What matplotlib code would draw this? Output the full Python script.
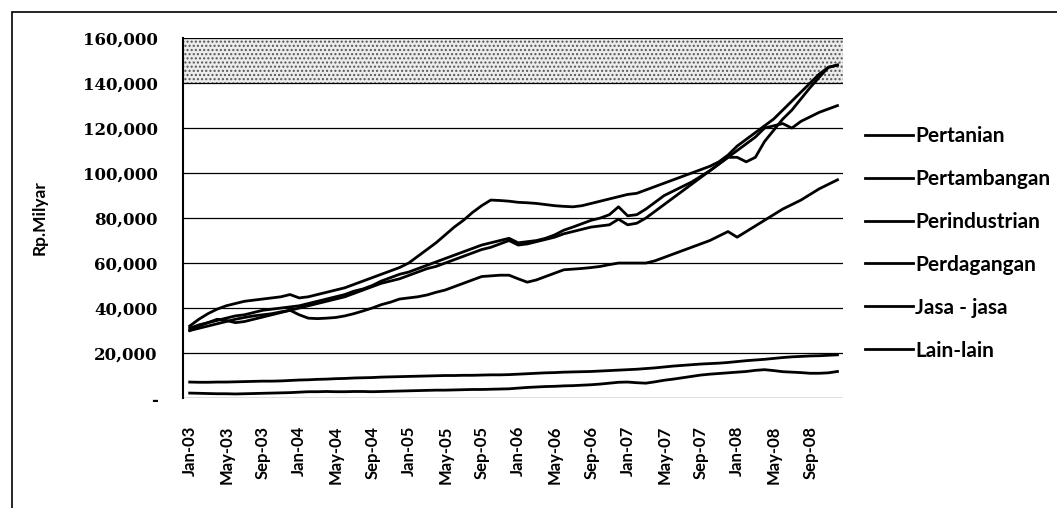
import matplotlib

matplotlib.use("Agg")
import matplotlib.pyplot as plt
from matplotlib.patches import Rectangle
from matplotlib.ticker import FuncFormatter, MultipleLocator

# Kredit per sektor ekonomi, bulanan Jan-03 s/d Des-08 (Rp. Milyar, dalam ribuan)
MONTHS = list(range(72))
TICK_MONTHS = list(range(0, 72, 4))
TICK_LABELS = [f"{m}-{y:02d}" for y in range(3, 9) for m in ("Jan", "May", "Sep")]

PERTANIAN = [
    7.1, 7.0, 7.0, 7.1, 7.1, 7.2, 7.3, 7.4, 7.5, 7.5, 7.6, 7.8,
    8.0, 8.1, 8.3, 8.4, 8.6, 8.7, 8.9, 9.0, 9.1, 9.3, 9.4, 9.5,
    9.6, 9.7, 9.8, 9.9, 10.0, 10.0, 10.1, 10.1, 10.2, 10.3, 10.3, 10.4,
    10.6, 10.8, 11.0, 11.2, 11.3, 11.5, 11.6, 11.7, 11.8, 12.0, 12.2, 12.4,
    12.6, 12.8, 13.1, 13.4, 13.8, 14.2, 14.5, 14.8, 15.1, 15.3, 15.5, 15.8,
    16.2, 16.6, 16.9, 17.2, 17.6, 18.0, 18.3, 18.5, 18.7, 18.8, 19.0, 19.2,
]
PERTAMBANGAN = [
    2.2, 2.1, 2.0, 1.9, 1.9, 1.8, 1.9, 2.0, 2.1, 2.2, 2.3, 2.4,
    2.6, 2.8, 2.8, 2.9, 2.8, 2.8, 2.9, 2.9, 2.8, 2.9, 3.0, 3.1,
    3.2, 3.3, 3.4, 3.5, 3.5, 3.6, 3.7, 3.8, 3.8, 3.9, 4.0, 4.1,
    4.4, 4.7, 4.9, 5.1, 5.2, 5.4, 5.5, 5.7, 5.9, 6.2, 6.6, 7.0,
    7.1, 6.8, 6.6, 7.2, 7.9, 8.4, 9.0, 9.6, 10.2, 10.6, 10.9, 11.2,
    11.5, 11.8, 12.3, 12.6, 12.2, 11.7, 11.5, 11.3, 11.0, 11.0, 11.2, 11.8,
]
PERINDUSTRIAN = [
    32, 35, 37.5, 39.5, 41, 42, 43, 43.5, 44, 44.5, 45, 46,
    44.5, 45, 46, 47, 48, 49, 50.5, 52, 53.5, 55, 56.5, 58,
    60, 63, 66, 69, 72.5, 76, 79, 82.5, 85.5, 88, 87.8, 87.5,
    87, 86.8, 86.5, 86, 85.5, 85.2, 85, 85.5, 86.5, 87.5, 88.5, 89.5,
    90.5, 91, 92.5, 94, 95.5, 97, 98.5, 100, 101.5, 103, 105, 108,
    112, 115, 118, 121, 124, 128, 132, 136, 140, 144, 147, 148,
]
PERDAGANGAN = [
    31, 32.5, 33.5, 34.5, 35.5, 36.5, 37, 38, 39, 39.5, 40, 40.5,
    41, 42, 43, 44, 45, 46, 47.5, 48.5, 50, 52, 53.5, 55,
    56, 57.5, 59, 60.5, 62, 63.5, 65, 66.5, 68, 69, 70, 71,
    69, 69.5, 70, 71, 72.5, 74.6, 76, 77.5, 79, 80, 81.5, 85,
    81, 81.5, 84, 87, 90, 92, 94, 96, 98.5, 101, 104, 107,
    107, 105, 107, 114, 119, 124, 128, 133, 138, 142.6, 147, 148,
]
JASA = [
    30, 31, 32, 33, 34, 35, 35.8, 36.5, 37, 37.5, 38.3, 39,
    37, 35.5, 35.3, 35.5, 35.8, 36.5, 37.5, 38.7, 40, 41.5, 42.6, 44,
    44.5, 45, 45.8, 47, 48, 49.5, 51, 52.5, 54, 54.3, 54.6, 54.6,
    53, 51.5, 52.5, 54, 55.5, 57, 57.3, 57.6, 58, 58.5, 59.3, 60,
    60, 60, 60, 61, 62.5, 64, 65.5, 67, 68.5, 70, 72, 74,
    71.5, 74, 76.5, 79, 81.5, 84, 86, 88, 90.5, 93, 95, 97,
]
LAIN_LAIN = [
    30, 32, 33.5, 35, 34.5, 33.5, 34, 35, 36, 37, 38, 39,
    40, 41, 42, 43, 44, 45, 46.5, 48, 49.5, 51, 52, 53,
    54.5, 56, 57.5, 58.5, 60, 61.5, 63, 64.5, 66, 67, 68.5, 70,
    68, 68.5, 69.5, 70.5, 71.5, 73, 74, 75, 76, 76.5, 77, 79.5,
    77, 77.7, 80, 83, 86, 89, 92, 95, 98, 101, 104, 107,
    110, 113, 116, 120, 121, 122, 120, 123, 125, 127, 128.5, 130,
]

SERIES = [
    ("Pertanian", PERTANIAN),
    ("Pertambangan", PERTAMBANGAN),
    ("Perindustrian", PERINDUSTRIAN),
    ("Perdagangan", PERDAGANGAN),
    ("Jasa - jasa", JASA),
    ("Lain-lain", LAIN_LAIN),
]

fig = plt.figure(figsize=(10.57, 5.08), dpi=100)
ax = fig.add_axes([0.173, 0.2165, 0.6245, 0.7085])

# speckled band at the top of the plot area
ax.axhspan(140000, 160000, facecolor="#ececec", edgecolor="#555555", hatch="....", linewidth=0, zorder=0)

for label, values in SERIES:
    ax.plot(MONTHS, [v * 1000 for v in values], color="black", linewidth=2.0, label=label, zorder=3)

ax.set_ylim(0, 160000)
ax.set_xlim(-0.75, 71.6)
ax.yaxis.set_major_locator(MultipleLocator(20000))
ax.yaxis.set_major_formatter(FuncFormatter(lambda v, _: "-" if v == 0 else f"{v:,.0f}"))
ax.grid(axis="y", color="black", linewidth=0.9, zorder=1)

ax.set_xticks(TICK_MONTHS)
ax.set_xticklabels(TICK_LABELS, rotation=90, fontfamily="Lato", fontweight="bold", fontsize=12)
for t in ax.get_yticklabels():
    t.set_fontfamily("DejaVu Serif")
    t.set_fontweight("bold")
    t.set_fontsize(12)
ax.tick_params(axis="x", length=0, pad=20)
ax.tick_params(axis="y", length=0, pad=18)

for side in ("top", "right", "bottom"):
    ax.spines[side].set_visible(False)
ax.spines["left"].set_linewidth(1.5)

ax.set_ylabel("Rp.Milyar", fontfamily="Lato", fontweight="bold", fontsize=12.5)
ax.yaxis.set_label_coords(-0.205, 0.5)

ax.legend(
    loc="center left",
    bbox_to_anchor=(1.005, 0.43),
    frameon=False,
    prop={"family": "Lato", "weight": "bold", "size": 15},
    handlelength=2.3,
    handletextpad=0.1,
    labelspacing=1.1,
)

# outer frame
fig.add_artist(Rectangle((0.0114, -0.05), 1.2, 0.05 + 0.976, transform=fig.transFigure,
                         fill=False, edgecolor="black", linewidth=1.2))

fig.savefig("out.png", dpi=100)
